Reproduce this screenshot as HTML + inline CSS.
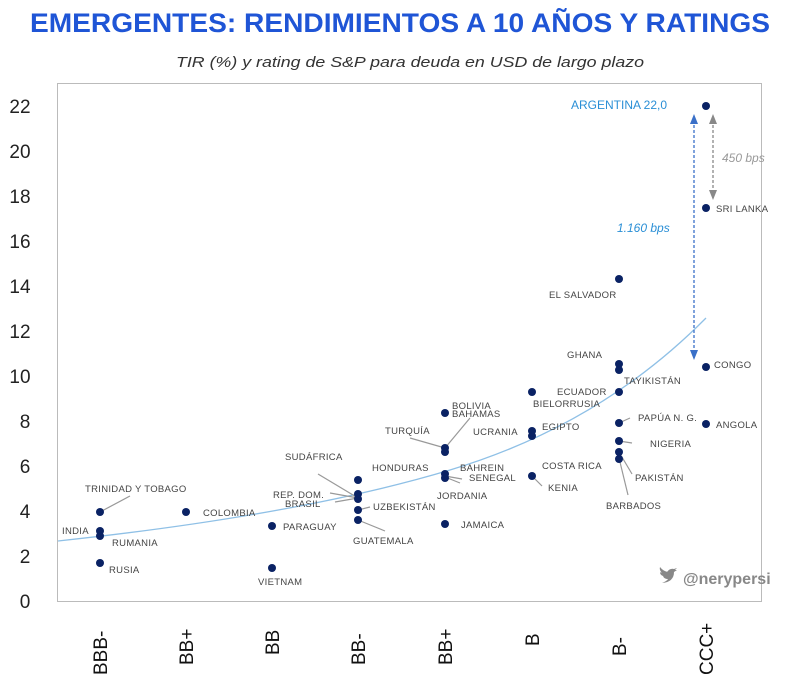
<!DOCTYPE html>
<html><head><meta charset="utf-8"><style>
body{margin:0;background:#fff;width:800px;height:687px;overflow:hidden}
svg{display:block}
.l{font-family:"Liberation Sans",sans-serif;font-size:9.5px;fill:#444;letter-spacing:0.3px}
.t{font-family:"Liberation Sans",sans-serif;font-size:19px;fill:#222}
.x{font-family:"Liberation Sans",sans-serif;font-size:19px;fill:#111}
</style></head><body>
<svg width="800" height="687" viewBox="0 0 800 687">
<text x="400" y="32" text-anchor="middle" font-family="Liberation Sans, sans-serif" font-size="27" font-weight="bold" fill="#1f55d6" textLength="740" lengthAdjust="spacingAndGlyphs">EMERGENTES: RENDIMIENTOS A 10 AÑOS Y RATINGS</text>
<text x="410" y="67" text-anchor="middle" font-family="Liberation Sans, sans-serif" font-size="15" font-style="italic" fill="#333" textLength="468" lengthAdjust="spacingAndGlyphs">TIR (%) y rating de S&amp;P para deuda en USD de largo plazo</text>
<rect x="57.5" y="83.5" width="704" height="518" fill="#fff" stroke="#bbb"/>
<g class="t" text-anchor="middle">
<text x="20" y="113">22</text><text x="20" y="158">20</text><text x="20" y="203">18</text><text x="20" y="248">16</text><text x="20" y="293">14</text><text x="20" y="338">12</text><text x="20" y="383">10</text><text x="25" y="428">8</text><text x="25" y="473">6</text><text x="25" y="518">4</text><text x="25" y="563">2</text><text x="25" y="608">0</text>
</g>
<g class="x">
<text transform="translate(107,675) rotate(-90)">BBB-</text>
<text transform="translate(193,665) rotate(-90)">BB+</text>
<text transform="translate(279,655) rotate(-90)">BB</text>
<text transform="translate(365,665) rotate(-90)">BB-</text>
<text transform="translate(452,665) rotate(-90)">BB+</text>
<text transform="translate(539,646) rotate(-90)">B</text>
<text transform="translate(626,656) rotate(-90)">B-</text>
<text transform="translate(713,675) rotate(-90)">CCC+</text>
</g>
<path d="M58,541 Q300,515 450,470 T706,318" fill="none" stroke="#8fc0e6" stroke-width="1.3"/>
<g stroke="#999" stroke-width="1.2" fill="none">
<path d="M100,512 L130,496"/><path d="M358,498 L318,474"/><path d="M358,498 L330,493"/><path d="M358,498 L335,502"/><path d="M358,510 L370,507"/><path d="M358,520 L385,531"/>
<path d="M445,448 L410,438"/><path d="M445,448 L470,418"/><path d="M445,476 L462,479"/><path d="M445,477 L460,483"/>
<path d="M532,476 L542,486"/><path d="M619,364 L622,362"/><path d="M619,423 L630,418"/><path d="M619,441 L632,443"/><path d="M619,452 L632,474"/><path d="M619,458 L628,495"/>
</g>
<g fill="#0a2264">
<circle cx="100" cy="512" r="4"/><circle cx="100" cy="531" r="4"/><circle cx="100" cy="536" r="4"/><circle cx="100" cy="563" r="4"/>
<circle cx="186" cy="512" r="4"/>
<circle cx="272" cy="526" r="4"/><circle cx="272" cy="568" r="4"/>
<circle cx="358" cy="480" r="4"/><circle cx="358" cy="494" r="4"/><circle cx="358" cy="499" r="4"/><circle cx="358" cy="510" r="4"/><circle cx="358" cy="520" r="4"/>
<circle cx="445" cy="413" r="4"/><circle cx="445" cy="448" r="4"/><circle cx="445" cy="452" r="4"/><circle cx="445" cy="474" r="4"/><circle cx="445" cy="478" r="4"/><circle cx="445" cy="524" r="4"/>
<circle cx="532" cy="392" r="4"/><circle cx="532" cy="431" r="4"/><circle cx="532" cy="436" r="4"/><circle cx="532" cy="476" r="4"/>
<circle cx="619" cy="279" r="4"/><circle cx="619" cy="364" r="4"/><circle cx="619" cy="370" r="4"/><circle cx="619" cy="392" r="4"/><circle cx="619" cy="423" r="4"/><circle cx="619" cy="441" r="4"/><circle cx="619" cy="452" r="4"/><circle cx="619" cy="459" r="4"/>
<circle cx="706" cy="106" r="4"/><circle cx="706" cy="208" r="4"/><circle cx="706" cy="367" r="4"/><circle cx="706" cy="424" r="4"/>
</g>
<g class="l">
<text x="85" y="492">TRINIDAD Y TOBAGO</text><text x="62" y="534">INDIA</text><text x="112" y="546">RUMANIA</text><text x="109" y="573">RUSIA</text>
<text x="203" y="516">COLOMBIA</text><text x="283" y="530">PARAGUAY</text><text x="258" y="585">VIETNAM</text>
<text x="285" y="460">SUDÁFRICA</text><text x="372" y="471">HONDURAS</text><text x="273" y="498">REP. DOM.</text><text x="285" y="507">BRASIL</text><text x="373" y="510">UZBEKISTÁN</text><text x="353" y="544">GUATEMALA</text>
<text x="452" y="409">BOLIVIA</text><text x="452" y="417">BAHAMAS</text><text x="385" y="434">TURQUÍA</text><text x="473" y="435">UCRANIA</text><text x="460" y="471">BAHREIN</text><text x="469" y="481">SENEGAL</text><text x="437" y="499">JORDANIA</text><text x="461" y="528">JAMAICA</text>
<text x="557" y="395">ECUADOR</text><text x="533" y="407">BIELORRUSIA</text><text x="542" y="430">EGIPTO</text><text x="542" y="469">COSTA RICA</text><text x="548" y="491">KENIA</text>
<text x="549" y="298">EL SALVADOR</text><text x="567" y="358">GHANA</text><text x="624" y="384">TAYIKISTÁN</text><text x="638" y="421">PAPÚA N. G.</text><text x="650" y="447">NIGERIA</text><text x="635" y="481">PAKISTÁN</text><text x="606" y="509">BARBADOS</text>
<text x="716" y="212">SRI LANKA</text><text x="714" y="368">CONGO</text><text x="716" y="428">ANGOLA</text>
</g>
<text x="571" y="109" font-family="Liberation Sans, sans-serif" font-size="12" fill="#2a8fd6">ARGENTINA  22,0</text>
<text x="617" y="232" font-family="Liberation Sans, sans-serif" font-size="12" font-style="italic" fill="#2a8fd6">1.160 bps</text>
<text x="722" y="162" font-family="Liberation Sans, sans-serif" font-size="12" font-style="italic" fill="#999">450 bps</text>
<line x1="694" y1="120" x2="694" y2="354" stroke="#3a70c8" stroke-width="1.3" stroke-dasharray="3,2"/>
<path d="M690,124 L694,114 L698,124Z M690,350 L694,360 L698,350Z" fill="#3a70c8"/>
<line x1="713" y1="120" x2="713" y2="194" stroke="#888" stroke-width="1.3" stroke-dasharray="3,2"/>
<path d="M709,124 L713,114 L717,124Z M709,190 L713,200 L717,190Z" fill="#888"/>
<path d="M660,573 q4,-2 7,-1 q3,-4 7,-3 l3,-1 -2,2 2,0 -3,2 q0,10 -12,11 q5,-2 6,-4 q-4,0 -5,-3 q-3,-1 -3,-4 q1,1 2,1 q-3,-3 -2,-6 q3,4 8,5" fill="#888"/>
<text x="683" y="584" font-family="Liberation Sans, sans-serif" font-size="16" font-weight="bold" fill="#888">@nerypersi</text>
</svg>
</body></html>
